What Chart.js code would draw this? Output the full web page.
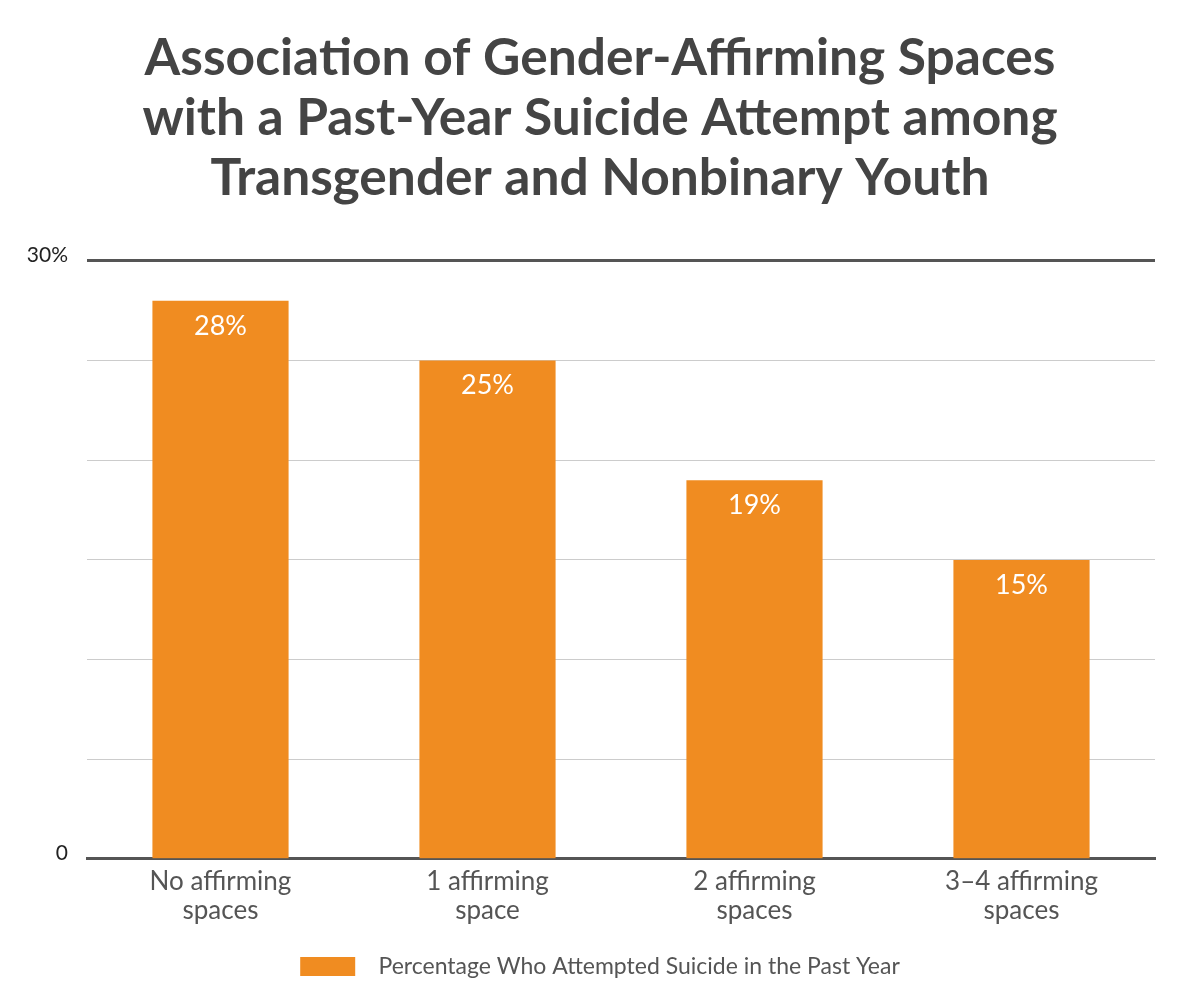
<!DOCTYPE html>
<html>
<head>
<meta charset="utf-8">
<script src="https://cdn.jsdelivr.net/npm/chart.js@4.4.0/dist/chart.umd.min.js"></script>
<style>
  body { margin: 0; background: #fff; }
  canvas { display: block; }
</style>
</head>
<body>
<canvas id="chart" width="1200" height="998"></canvas>
<script>
// chart data
var categories = [["No affirming", "spaces"], ["1 affirming", "space"], ["2 affirming", "spaces"], ["3\u20134 affirming", "spaces"]];
var attemptPercent = [28, 25, 19, 15];
var seriesName = "Percentage Who Attempted Suicide in the Past Year";
var titleLines = ["Association of Gender-Affirming Spaces", "with a Past-Year Suicide Attempt among", "Transgender and Nonbinary Youth"];

// draws the value label inside the top of each bar
var barLabels = {
  id: "barLabels",
  afterDatasetsDraw: function (chart) {
    var ctx = chart.ctx;
    var meta = chart.getDatasetMeta(0);
    ctx.save();
    ctx.fillStyle = "#ffffff";
    ctx.font = "27px Lato";
    ctx.textAlign = "center";
    ctx.textBaseline = "middle";
    meta.data.forEach(function (bar, i) {
      ctx.fillText(attemptPercent[i] + "%", bar.x, bar.y + 25);
    });
    ctx.restore();
  }
};

var ctx = document.getElementById("chart").getContext("2d");
var chart = new Chart(ctx, {
  type: "bar",
  data: {
    labels: categories,
    datasets: [{
      label: seriesName,
      data: attemptPercent,
      backgroundColor: "#f08c21",
      borderWidth: 0,
      barPercentage: 0.51,
      categoryPercentage: 1.0
    }]
  },
  options: {
    responsive: false,
    animation: false,
    layout: { padding: { left: 0, right: 0, top: 0, bottom: 10 } },
    plugins: {
      title: {
        display: true,
        text: titleLines,
        color: "#444444",
        font: { family: "Lato", weight: "bold", size: 51.5, lineHeight: 1.165 },
        padding: { top: 28, bottom: 53 }
      },
      legend: {
        position: "bottom",
        labels: {
          color: "#555555",
          font: { family: "Lato", size: 23 },
          boxWidth: 55,
          boxHeight: 19,
          padding: 30,
          generateLabels: function (chart) {
            var items = Chart.defaults.plugins.legend.labels.generateLabels(chart);
            items.forEach(function (item) { item.text = "  " + item.text; });
            return items;
          }
        }
      },
      tooltip: { enabled: false }
    },
    scales: {
      x: {
        grid: { display: false },
        border: { display: true, color: "#555555", width: 3 },
        ticks: {
          color: "#555555",
          font: { family: "Lato", size: 26, lineHeight: 1.12 },
          padding: 0,
          maxRotation: 0
        }
      },
      y: {
        min: 0,
        max: 30,
        border: { display: false },
        afterFit: function (scale) { scale.width = 87; },
        grid: {
          drawTicks: false,
          color: function (c) {
            return c.tick.value === 30 ? "#555555" : "#cccccc";
          },
          lineWidth: function (c) {
            return c.tick.value === 30 ? 3 : 1;
          }
        },
        ticks: {
          stepSize: 5,
          color: "#222222",
          font: { family: "Lato", size: 21 },
          padding: 19,
          labelOffset: -6,
          callback: function (v) {
            if (v === 30) return "30%";
            if (v === 0) return "0";
            return "";
          }
        }
      },
      // empty right-hand axis that only reserves the right margin
      yRight: {
        position: "right",
        min: 0,
        max: 30,
        grid: { display: false },
        border: { display: false },
        ticks: { display: false },
        afterFit: function (scale) { scale.width = 45; }
      }
    }
  },
  plugins: [barLabels]
});
</script>
</body>
</html>
